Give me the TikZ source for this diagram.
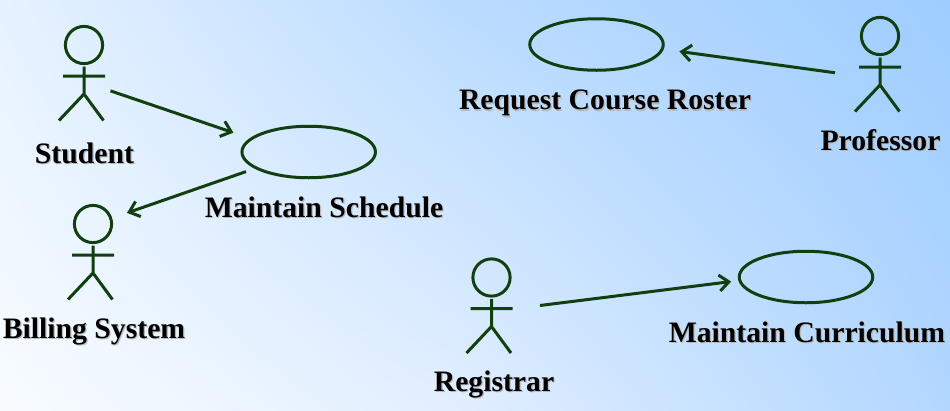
\documentclass[tikz,border=0pt]{standalone}
\usepackage{fontspec}
\setmainfont{Liberation Serif}
\usetikzlibrary{arrows.meta,positioning,shadings,shapes.geometric}

\definecolor{stickgreen}{HTML}{123F10}
\definecolor{skyll}{RGB}{248,252,255}
\definecolor{skyul}{RGB}{230,242,255}
\definecolor{skytm}{RGB}{187,220,255}
\definecolor{skybm}{RGB}{226,239,255}
\definecolor{skyur}{RGB}{158,205,255}
\definecolor{skylr}{RGB}{178,215,255}
\newcommand{\softshadow}[1]{\leavevmode\rlap{\kern1.2pt\raisebox{-1.2pt}{\textcolor{black!28}{#1}}}#1}

\begin{document}
\begin{tikzpicture}[
  x=1pt,y=-1pt,
  node distance=18pt,
  hull/.style={minimum height=96pt,inner sep=0pt,outer sep=0pt},
  usecase/.style={draw=stickgreen,line width=3pt,ellipse,inner sep=0pt,outer sep=0pt,minimum width=133.5pt,minimum height=51.5pt},
  caption/.style={font=\fontsize{29.7}{32}\bfseries,text height=20pt,text depth=6pt,inner sep=0pt,text=black},
  assoc/.style={draw=stickgreen,line width=3pt,-{Straight Barb[length=9.5pt,width=16pt,line width=3pt]}},
  actor/.pic={
    \draw[stickgreen,line width=3pt] (0,-28) circle[radius=18.6pt];
    \draw[stickgreen,line width=3pt] (0,-6.3) -- (0,21) (-21,3) -- (21,3) (-25,47.5) -- (0,21) -- (19.5,47.5);
  }
]
  \useasboundingbox (0,0) rectangle (950,410);
  \shade[lower left=skyll,upper left=skyul,upper right=skytm,lower right=skybm]
    (0,0) rectangle (450,410);
  \shade[lower left=skybm,upper left=skytm,upper right=skyur,lower right=skylr]
    (450,0) rectangle (950,410);

  % actors
  \node[hull,minimum width=53pt] (student) at (84,73) {};
  \node[hull,minimum width=68pt] (billing) at (93,252) {};
  \node[hull,minimum width=90pt] (professor) at (880,64) {};
  \node[hull,minimum width=97pt] (registrar) at (491.5,305.5) {};
  \pic at (student) {actor};
  \pic at (billing) {actor};
  \pic at (professor) {actor};
  \pic at (registrar) {actor};

  % use cases
  \node[usecase] (schedule) at (308.7,152) {};
  \node[usecase] (roster) at (596.5,44.5) {};
  \node[usecase] (curriculum) at (806,277) {};

  % captions
  \node[caption,below=22pt of student,xshift=.5pt] (student label) {\softshadow{Student}};
  \node[caption,below=of billing,xshift=1pt] (billing label) {\softshadow{Billing System}};
  \node[caption,below=of professor,xshift=.5pt] (professor label) {\softshadow{Professor}};
  \node[caption,below=of registrar,xshift=2.5pt] (registrar label) {\softshadow{Registrar}};
  \node[caption,below=19.5pt of schedule,xshift=15.3pt] (schedule label) {\softshadow{Maintain Schedule}};
  \node[caption,below=19.5pt of roster,xshift=8.5pt] (roster label) {\softshadow{Request Course Roster}};
  \node[caption,below=19.5pt of curriculum,xshift=1pt] (curriculum label) {\softshadow{Maintain Curriculum}};

  \draw[assoc,shorten >=19pt] (student.-34) -- (schedule.167);
  \draw[assoc,shorten <=11pt] (schedule.197) -- (billing.49);
  \draw[assoc,shorten >=17.4pt] (professor.191.3) -- (roster.-4.4);
  \draw[assoc,shorten >=8.8pt] (registrar.east) -- (curriculum.183.3);
\end{tikzpicture}
\end{document}
